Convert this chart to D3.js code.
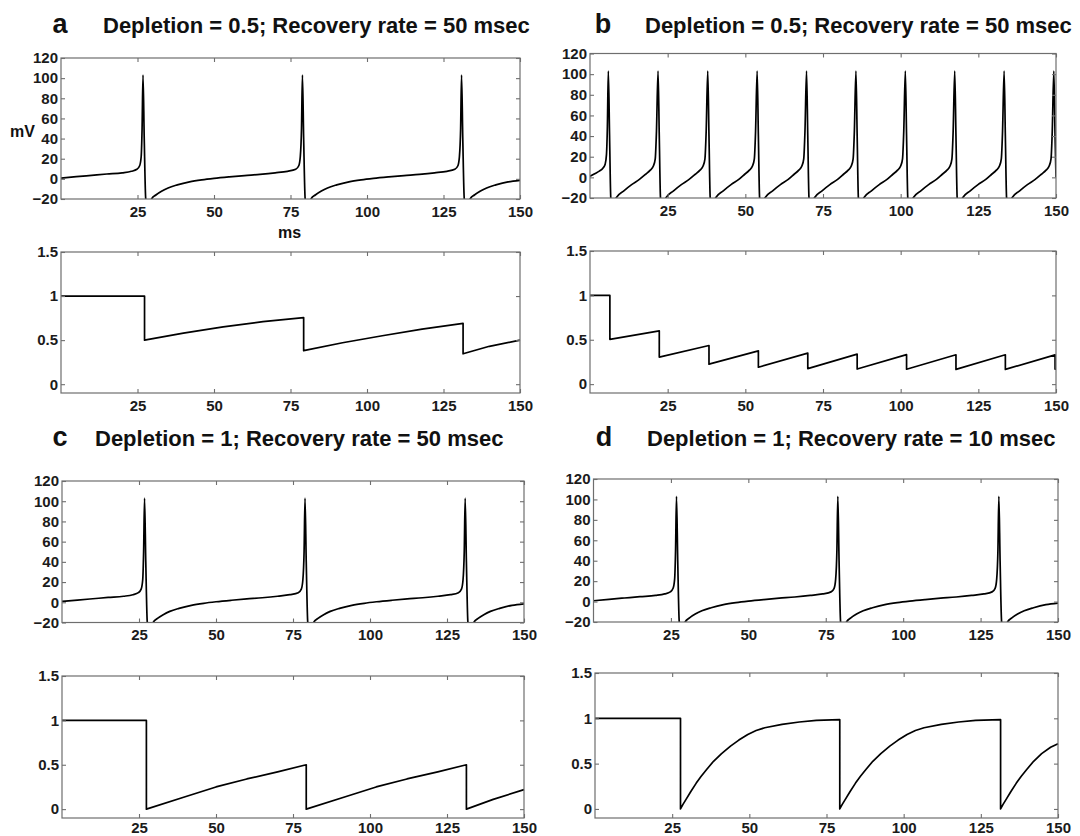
<!DOCTYPE html>
<html>
<head>
<meta charset="utf-8">
<script src="https://cdn.jsdelivr.net/npm/d3@7"></script>
<style>
  body { margin: 0; background: #fff; }
  svg { display: block; }
  text { font-family: "Liberation Sans", Arial, Helvetica, sans-serif; }
</style>
</head>
<body>
<svg id="fig" width="1080" height="836"></svg>
<script>
// ---------- data ----------
const timeDomain = [0, 150];
const voltDomain = [-20, 120];
const availDomain = [-0.1, 1.5];

const timeTicks = [25, 50, 75, 100, 125, 150];
const voltTicks = [-20, 0, 20, 40, 60, 80, 100, 120];
const availTicks = [0, 0.5, 1, 1.5];
const availTickLabels = ["0", "0.5", "1", "1.5"];

const panelLetters = ["a", "b", "c", "d"];
const panelTitles = [
  "Depletion = 0.5; Recovery rate = 50 msec",
  "Depletion = 0.5; Recovery rate = 50 msec",
  "Depletion = 1; Recovery rate = 50 msec",
  "Depletion = 1; Recovery rate = 10 msec"
];
const voltUnit = "mV";
const timeUnit = "ms";

// membrane potential (ms, mV), three spikes in 150 ms
const vmSlow = [
  [0,0.8],[5,2.2],[10,3.5],[15,4.8],[20,6],[23,7.5],[24.8,9.5],[25.7,13],[26.2,22],[26.5,50],[26.8,103],
  [27.2,40],[27.7,-20],[28.6,-28],[29.6,-20],[31,-16],[33,-12],[35,-9],[38,-6],[42,-3],[46,-1],[50,0.5],
  [55,2],[60,3.3],[65,4.5],[70,6],[74,7.5],[76.7,9.5],[77.7,13],[78.2,22],[78.6,50],[78.9,103],
  [79.3,40],[79.8,-20],[80.7,-28],[81.7,-20],[83.1,-16],[85.1,-12],[87.1,-9],[90.1,-6],[94.1,-3],[98.1,-1],
  [102.1,0.5],[107.1,2],[112.1,3.3],[117.1,4.5],[122.1,6],[126.1,7.5],[128.7,9.5],[129.7,13],[130.2,22],
  [130.6,50],[130.9,103],[131.3,40],[131.8,-20],[132.7,-28],[133.7,-20],[135.1,-16],[137.1,-12],[139.1,-9],
  [142.1,-6],[146.1,-3],[150,-1.5]
];

// membrane potential (ms, mV), ten spikes in 150 ms
const vmFast = [
  [0,1],[1.5,3.5],[3,6],[4.2,9],[4.9,13],[5.3,22],[5.6,50],[5.9,103],
  [6.3,40],[6.7,-20],[7.5,-28],[8.4,-20],[10.9,-13],[13.4,-7],[15.9,-2],[17.9,3],[19.4,7],[20.4,11],[21.0,18],[21.4,45],[21.9,103],
  [22.3,40],[22.7,-20],[23.5,-28],[24.4,-20],[26.9,-13],[29.4,-7],[31.9,-2],[33.9,3],[35.4,7],[36.4,11],[37.0,18],[37.4,45],[37.9,103],
  [38.3,40],[38.7,-20],[39.5,-28],[40.4,-20],[42.9,-13],[45.4,-7],[47.9,-2],[49.8,3],[51.3,7],[52.3,11],[52.9,18],[53.3,45],[53.8,103],
  [54.2,40],[54.6,-20],[55.4,-28],[56.3,-20],[58.8,-13],[61.3,-7],[63.8,-2],[65.7,3],[67.2,7],[68.2,11],[68.8,18],[69.2,45],[69.7,103],
  [70.1,40],[70.5,-20],[71.3,-28],[72.2,-20],[74.7,-13],[77.2,-7],[79.7,-2],[81.6,3],[83.1,7],[84.1,11],[84.7,18],[85.1,45],[85.6,103],
  [86.0,40],[86.4,-20],[87.2,-28],[88.1,-20],[90.6,-13],[93.1,-7],[95.6,-2],[97.5,3],[99.0,7],[100.0,11],[100.6,18],[101.0,45],[101.5,103],
  [101.9,40],[102.3,-20],[103.1,-28],[104.0,-20],[106.5,-13],[109.0,-7],[111.5,-2],[113.4,3],[114.9,7],[115.9,11],[116.5,18],[116.9,45],[117.4,103],
  [117.8,40],[118.2,-20],[119.0,-28],[119.9,-20],[122.4,-13],[124.9,-7],[127.4,-2],[129.3,3],[130.8,7],[131.8,11],[132.4,18],[132.8,45],[133.3,103],
  [133.7,40],[134.1,-20],[134.9,-28],[135.8,-20],[138.3,-13],[140.8,-7],[143.3,-2],[145.3,3],[146.8,7],[147.8,11],[148.4,18],[148.8,45],[149.3,103],
  [149.7,40],[150,0]
];

// available resource fraction (ms, fraction)
const availA = [
  [0,1],[27.3,1],[27.3,0.5],[40,0.58],[53,0.65],[66,0.71],[79.3,0.756],
  [79.3,0.38],[92,0.47],[105,0.55],[118,0.625],[131.4,0.69],
  [131.4,0.345],[140,0.43],[150,0.5]
];
const availB = [
  [0,1],[6.4,1],[6.4,0.505],[22.3,0.6],[22.3,0.305],[38.3,0.435],[38.3,0.225],[54.2,0.375],
  [54.2,0.19],[70.1,0.35],[70.1,0.175],[86,0.338],[86,0.17],[101.9,0.332],[101.9,0.168],
  [117.8,0.331],[117.8,0.166],[133.7,0.331],[133.7,0.166],[149.7,0.33],[149.7,0.17],[150,0.17]
];
const availC = [
  [0,1],[27.4,1],[27.4,0],[40,0.14],[50,0.25],[60,0.34],[70,0.42],[79.3,0.5],
  [79.3,0],[92,0.14],[102,0.25],[112,0.34],[122,0.42],[131.3,0.5],
  [131.3,0],[140,0.11],[150,0.22]
];
const availD = [
  [0,1],[27.7,1],[27.7,0],[28.5,0.05],[29.4,0.1],[31,0.19],[32.8,0.285],[34.4,0.36],[36.1,0.433],[38.4,0.526],
  [41,0.61],[43.9,0.693],[46.6,0.76],[49.5,0.822],[52.2,0.865],[55,0.896],[60.6,0.933],[66.2,0.959],[71.7,0.978],[79.3,0.985],
  [79.3,0],[80.1,0.05],[81,0.1],[82.6,0.19],[84.4,0.285],[86,0.36],[87.7,0.433],[90,0.526],
  [92.6,0.61],[95.5,0.693],[98.2,0.76],[101.1,0.822],[103.8,0.865],[106.6,0.896],[112.2,0.933],[117.8,0.959],[123.3,0.978],[131.4,0.985],
  [131.4,0],[132.2,0.05],[133.1,0.1],[134.7,0.19],[136.5,0.285],[138.1,0.36],[139.8,0.433],[142.1,0.526],
  [144.7,0.61],[147.6,0.68],[150,0.72]
];

// ---------- layout ----------
const panels = [
  { letterX: 60,  titleX: 103, baseY: 33,  top: [61, 520, 58, 199],     bot: [61, 520, 252, 393],  botPad: 7, vm: vmSlow, avail: availA, units: true },
  { letterX: 603, titleX: 645, baseY: 33,  top: [590, 1056, 53.5, 198], bot: [590, 1056, 251, 393], botPad: 7, vm: vmFast, avail: availB, units: false },
  { letterX: 60,  titleX: 95,  baseY: 446, top: [62, 524, 481, 622.5],  bot: [62, 524, 676, 818],   botPad: 4, vm: vmSlow, avail: availC, units: false },
  { letterX: 604, titleX: 647, baseY: 446, top: [593.5, 1058, 479, 622], bot: [595, 1058, 673, 818], botPad: 4, vm: vmSlow, avail: availD, units: false }
];

const svg = d3.select("#fig");
const frameColor = "#6e6e6e";
const labelColor = "#1b1b1b";

function drawAxesBox(g, x, y, yTickVals, yFormat, pad) {
  const [x0, x1] = x.range();
  const [y1, y0] = y.range();
  g.append("rect")
    .attr("x", x0).attr("y", y0).attr("width", x1 - x0).attr("height", y1 - y0)
    .attr("fill", "none").attr("stroke", frameColor).attr("stroke-width", 1.2);

  const bottom = g.append("g").attr("transform", `translate(0,${y1})`)
    .call(d3.axisBottom(x).tickValues(timeTicks).tickSize(-4).tickSizeOuter(0).tickPadding(pad));
  const top = g.append("g").attr("transform", `translate(0,${y0})`)
    .call(d3.axisTop(x).tickValues(timeTicks).tickSize(-4).tickSizeOuter(0).tickFormat(""));
  const left = g.append("g").attr("transform", `translate(${x0},0)`)
    .call(d3.axisLeft(y).tickValues(yTickVals).tickSize(-4).tickSizeOuter(0).tickPadding(3).tickFormat(yFormat));
  const right = g.append("g").attr("transform", `translate(${x1},0)`)
    .call(d3.axisRight(y).tickValues(yTickVals).tickSize(-4).tickSizeOuter(0).tickFormat(""));

  [bottom, top, left, right].forEach(a => {
    a.select(".domain").remove();
    a.selectAll(".tick line").attr("stroke", frameColor).attr("stroke-width", 1.1);
    a.selectAll(".tick text")
      .attr("fill", labelColor)
      .style("font-size", "15px")
      .style("font-weight", "bold")
      .style("font-family", '"Liberation Sans", Arial, sans-serif');
  });
}

panels.forEach((p, i) => {
  const g = svg.append("g");

  // panel letter and title
  g.append("text").attr("x", p.letterX).attr("y", p.baseY)
    .attr("text-anchor", "middle")
    .style("font-size", "27px").style("font-weight", "bold").attr("fill", "#111")
    .text(panelLetters[i]);
  g.append("text").attr("x", p.titleX).attr("y", p.baseY)
    .style("font-size", "22px").style("font-weight", "bold").attr("fill", "#111")
    .text(panelTitles[i]);

  // membrane potential
  const xt = d3.scaleLinear().domain(timeDomain).range([p.top[0], p.top[1]]);
  const yt = d3.scaleLinear().domain(voltDomain).range([p.top[3], p.top[2]]);
  const clipId = "clip-v" + i;
  g.append("clipPath").attr("id", clipId).append("rect")
    .attr("x", p.top[0]).attr("y", p.top[2])
    .attr("width", p.top[1] - p.top[0]).attr("height", p.top[3] - p.top[2]);
  g.append("path").datum(p.vm)
    .attr("clip-path", `url(#${clipId})`)
    .attr("fill", "none").attr("stroke", "#000").attr("stroke-width", 1.7)
    .attr("stroke-linejoin", "round")
    .attr("d", d3.line().x(d => xt(d[0])).y(d => yt(d[1])).curve(d3.curveMonotoneX));
  drawAxesBox(g, xt, yt, voltTicks, d3.format("d"), 7);

  // available fraction
  const xb = d3.scaleLinear().domain(timeDomain).range([p.bot[0], p.bot[1]]);
  const yb = d3.scaleLinear().domain(availDomain).range([p.bot[3], p.bot[2]]);
  g.append("path").datum(p.avail)
    .attr("fill", "none").attr("stroke", "#000").attr("stroke-width", 1.7)
    .attr("stroke-linejoin", "round")
    .attr("d", d3.line().x(d => xb(d[0])).y(d => yb(d[1])));
  drawAxesBox(g, xb, yb, availTicks, d => availTickLabels[availTicks.indexOf(d)], p.botPad);

  if (p.units) {
    g.append("text").attr("x", 10).attr("y", 137)
      .style("font-size", "16px").style("font-weight", "bold").attr("fill", "#111")
      .text(voltUnit);
    g.append("text").attr("x", (p.top[0] + p.top[1]) / 2 - 1).attr("y", 238)
      .attr("text-anchor", "middle")
      .style("font-size", "16px").style("font-weight", "bold").attr("fill", "#111")
      .text(timeUnit);
  }
});
</script>
</body>
</html>
